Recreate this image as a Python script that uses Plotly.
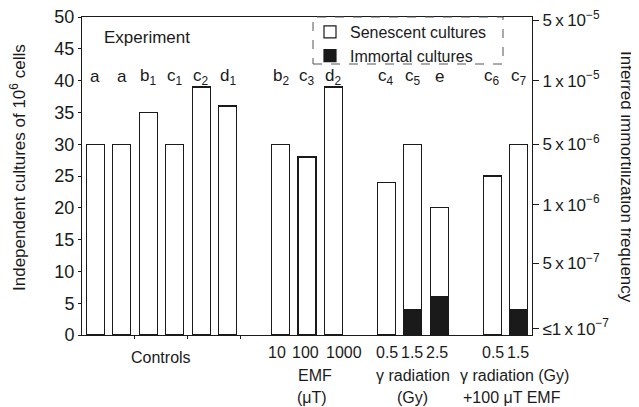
import plotly.graph_objects as go

# ---- data ----
slots = [0, 1, 2, 3, 4, 5, 7, 8, 9, 11, 12, 13, 15, 16]
bar_labels = ["a", "a", "b<sub>1</sub>", "c<sub>1</sub>", "c<sub>2</sub>", "d<sub>1</sub>",
              "b<sub>2</sub>", "c<sub>3</sub>", "d<sub>2</sub>",
              "c<sub>4</sub>", "c<sub>5</sub>", "e",
              "c<sub>6</sub>", "c<sub>7</sub>"]
total_cultures = [30, 30, 35, 30, 39, 36, 30, 28, 39, 24, 30, 20, 25, 30]
immortal_slots = [12, 13, 16]
immortal_cultures = [4, 6, 4]

freq_tickvals = [49.5, 40, 30, 20.5, 11.3, 1]
freq_ticktext = ["5\u2009x\u200910<sup>−5</sup>", "1\u2009x\u200910<sup>−5</sup>",
                 "5\u2009x\u200910<sup>−6</sup>", "1\u2009x\u200910<sup>−6</sup>",
                 "5\u2009x\u200910<sup>−7</sup>", "≤1\u2009x\u200910<sup>−7</sup>"]

imm_map = dict(zip(immortal_slots, immortal_cultures))
senescent = [t - imm_map.get(s, 0) for s, t in zip(slots, total_cultures)]
base = [imm_map.get(s, 0) for s in slots]

FONT = "Liberation Sans, Arial, Helvetica, sans-serif"
INK = "#1a1a1a"
FS = 17

# page body has an 8px margin: plot area should sit at x 82..532, y 17..335 on the page
OFF = 8
PL, PR, PT, PB = 82, 532, 17, 335
W, H = 639 - OFF, 407 - OFF
PW, PH = PR - PL, PB - PT


def px(p):
    return (p - PL) / PW


def py(p):
    return (PB - p) / PH


fig = go.Figure()
fig.add_trace(go.Bar(
    x=immortal_slots, y=immortal_cultures, name="Immortal cultures",
    marker=dict(color=INK, line=dict(color=INK, width=1.2)), width=0.68,
))
fig.add_trace(go.Bar(
    x=slots, y=senescent, base=base, name="Senescent cultures",
    marker=dict(color="white", line=dict(color=INK, width=1.2)), width=0.68,
))
# carrier for the right-hand frequency axis
fig.add_trace(go.Scatter(x=[None], y=[None], yaxis="y2", showlegend=False,
                         hoverinfo="skip", mode="markers"))

# bar labels
for s, lab in zip(slots, bar_labels):
    fig.add_annotation(x=s, y=40.6, xref="x", yref="y", text=lab, showarrow=False,
                       xanchor="center", yanchor="middle",
                       font=dict(size=FS, color=INK, family=FONT))

fig.add_annotation(x=0.26, y=46.7, xref="x", yref="y", text="Experiment", showarrow=False,
                   xanchor="left", yanchor="middle", font=dict(size=FS, color=INK, family=FONT))

group_text = [
    (2.5, 357, "Controls"),
    (6.87, 352, "10"), (7.96, 352, "100"), (9.4, 352, "1000"),
    (8.3, 375, "EMF"), (8.2, 397, "(μT)"),
    (11.02, 352, "0.5"), (11.96, 352, "1.5"), (12.9, 352, "2.5"),
    (12.0, 375, "γ radiation"), (12.0, 397, "(Gy)"),
    (15.02, 352, "0.5"), (15.96, 352, "1.5"),
    (15.85, 375, "γ radiation (Gy)"), (15.75, 397, "+100 μT EMF"),
]
for gx, gy, txt in group_text:
    fig.add_annotation(x=gx, y=py(gy), xref="x", yref="paper", text=txt, showarrow=False,
                       xanchor="center", yanchor="middle",
                       font=dict(size=16, color=INK, family=FONT))

# axis titles
fig.add_annotation(x=px(18), y=py(168), xref="paper", yref="paper",
                   text="Independent cultures of 10<sup>6</sup> cells",
                   showarrow=False, textangle=-90, xanchor="center", yanchor="middle",
                   font=dict(size=17, color=INK, family=FONT))
fig.add_annotation(x=px(627), y=py(177), xref="paper", yref="paper",
                   text="Inferred immortilization frequency", showarrow=False, textangle=90,
                   xanchor="center", yanchor="middle",
                   font=dict(size=17, color=INK, family=FONT))

# legend dashed border
fig.add_shape(type="rect", xref="paper", yref="paper",
              x0=px(313), x1=px(503), y0=py(64), y1=1.0,
              line=dict(color="#555", width=1, dash="dash"))

fig.update_layout(
    width=W, height=H,
    margin=dict(l=PL - OFF, r=W - (PR - OFF), t=PT - OFF, b=H - (PB - OFF), autoexpand=False),
    paper_bgcolor="white", plot_bgcolor="white",
    barmode="stack",
    showlegend=True,
    legend=dict(x=px(310), y=py(15), xanchor="left", yanchor="top",
                bgcolor="rgba(0,0,0,0)", traceorder="reversed",
                font=dict(size=16, color=INK, family=FONT), itemwidth=30,
                tracegroupgap=0),
    font=dict(family=FONT, color=INK),
    xaxis=dict(range=[-0.5, 16.5], showgrid=False, zeroline=False, automargin=False,
               showline=True, linecolor=INK, linewidth=1, mirror=True,
               tickvals=[1.5, 3.5, 5.5], ticktext=["", "", ""], ticks="outside",
               ticklen=3, tickcolor=INK),
    yaxis=dict(range=[0, 50], tickvals=list(range(0, 51, 5)), showgrid=False,
               zeroline=False, showline=True, linecolor=INK, linewidth=1, automargin=False,
               ticks="outside", ticklen=3, tickcolor=INK, ticklabeloverflow="allow",
               tickfont=dict(size=18, color=INK, family=FONT)),
    yaxis2=dict(range=[0, 50], overlaying="y", side="right", anchor="x", automargin=False,
                tickvals=freq_tickvals, ticktext=freq_ticktext, showgrid=False,
                zeroline=False, showline=True, linecolor=INK, linewidth=1,
                ticks="outside", ticklen=6, tickcolor=INK, ticklabeloverflow="allow",
                tickfont=dict(size=17, color=INK, family=FONT)),
)

fig.write_html("out.html")
